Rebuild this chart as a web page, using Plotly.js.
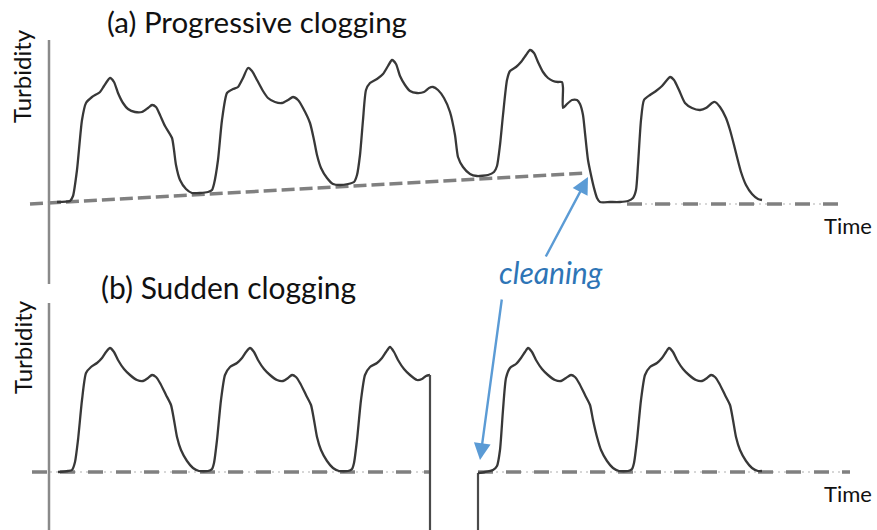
<!DOCTYPE html>
<html><head><meta charset="utf-8">
<script src="https://cdn.plot.ly/plotly-3.0.1.min.js"></script>
<style>html,body{margin:0;padding:0;background:#fff}#chart{width:877px;height:530px}</style>
</head><body><div id="chart"></div>
<script>
// (a) Progressive clogging: time and turbidity
const timeA = [57,70,73,77,82,86,92,100,104,110,114,118,123,128,135,142,148,152,156,160,165,172,174,176,180,186,192,200,208,212,214,218,222,227,233,238,243,248,252,257,263,268,275,282,288,293,298,303,310,314,317,321,327,333,340,348,354,357,360,363,366,370,377,383,388,392,396,400,405,410,417,424,429,433,438,444,450,455,458,463,470,477,488,494,497,500,503,507,510,516,521,526,530,534,538,543,548,553,558,562,563,563,567,572,577,580,583,585,588,591,594,597,600,610,620,628,633,636,638,641,644,650,656,662,667,670,674,679,685,692,700,706,712,715,720,726,730,734,737,741,746,752,758,762];
const turbA = [2,3,8,34,84,101,107,112,118,126,122,111,101,95,92,92,96,99,97,89,78,66,54,39,24,15,11,11,12,14,20,44,84,111,115,117,126,136,133,124,113,106,102,101,104,107,104,96,81,64,49,36,26,20,19,20,22,29,49,84,114,121,125,130,138,144,140,128,119,113,111,112,116,117,114,106,92,69,47,37,30,28,29,32,38,59,89,124,133,137,142,149,154,151,142,132,126,123,122,122,116,96,100,104,104,100,89,71,44,29,16,6,2,2,2,3,6,14,39,84,104,109,113,118,124,127,124,114,101,96,94,96,101,102,97,86,74,59,47,32,19,10,5,4];
// (a) clogging trend line and post-cleaning baseline
const trendTimeA = [30,587];
const trendTurbA = [0,31];
const baseTimeA = [627,838];
const baseTurbA = [0,0];

// (b) Sudden clogging, before cleaning
const timeB1 = [58,68,72,75,78,82,86,91,97,102,106,110,114,118,124,130,137,143,148,152,156,160,166,171,174,177,181,187,193,199,208,212,214,217,221,225,230,237,242,246,250,254,258,264,270,277,283,288,292,296,300,306,311,314,317,321,327,333,339,348,352,354,357,361,365,370,377,382,386,390,394,398,404,410,417,422,426,430];
const turbB1 = [0,1,2,10,32,72,99,105,109,114,120,124,120,112,103,97,92,91,94,97,95,89,77,67,52,35,22,11,4,1,1,3,9,32,72,97,105,109,114,120,124,120,112,103,97,92,91,94,97,95,89,77,67,52,35,22,11,4,1,1,3,9,32,72,97,105,109,114,120,125,120,112,103,97,92,93,96,97];
// (b) sudden drop (clogging) and restart after cleaning
const dropTimeB = [430,430];
const dropTurbB = [97,-58];
const restartTimeB = [478,478];
const restartTurbB = [-58,-1];
// (b) after cleaning
const timeB2 = [478,485,493,497,500,503,506,510,516,521,525,528,532,536,542,548,555,561,566,571,575,579,585,590,593,597,601,607,613,619,628,632,634,637,641,645,650,657,662,666,669,673,677,683,689,696,702,707,711,715,719,725,730,733,736,740,746,752,758,762];
const turbB2 = [-1,0,2,6,22,62,94,104,108,114,120,124,120,112,103,97,92,91,94,97,95,89,77,67,52,35,22,11,4,1,1,3,9,32,72,97,105,109,114,120,124,120,112,103,97,92,91,94,97,95,89,77,67,52,35,22,11,4,1,1];
const baseTimeB1 = [32,430];
const baseTimeB2 = [478,850];
const baseTurbB = [0,0];

const curve = {color:'#383838', width:2.3, shape:'spline', smoothing:0.6};
const straight = {color:'#4a4a4a', width:2.2};
const dashCol = '#808080';
const traces = [
  {x:trendTimeA, y:trendTurbA, xaxis:'x', yaxis:'y', mode:'lines', line:{color:dashCol, width:3.5, dash:'13px,5px'}},
  {x:baseTimeA, y:baseTurbA, xaxis:'x', yaxis:'y', mode:'lines', line:{color:'#b0b0b0', width:1.2, dash:'2px,4px'}},
  {x:baseTimeA, y:baseTurbA, xaxis:'x', yaxis:'y', mode:'lines', line:{color:dashCol, width:3.5, dash:'15px,13px'}},
  {x:timeA, y:turbA, xaxis:'x', yaxis:'y', mode:'lines', line:curve},
  {x:baseTimeB1, y:baseTurbB, xaxis:'x', yaxis:'y2', mode:'lines', line:{color:'#b0b0b0', width:1.2, dash:'2px,4px'}},
  {x:baseTimeB2, y:baseTurbB, xaxis:'x', yaxis:'y2', mode:'lines', line:{color:'#b0b0b0', width:1.2, dash:'2px,4px'}},
  {x:baseTimeB1, y:baseTurbB, xaxis:'x', yaxis:'y2', mode:'lines', line:{color:dashCol, width:3.5, dash:'15px,13px'}},
  {x:baseTimeB2, y:baseTurbB, xaxis:'x', yaxis:'y2', mode:'lines', line:{color:dashCol, width:3.5, dash:'15px,13px'}},
  {x:timeB1, y:turbB1, xaxis:'x', yaxis:'y2', mode:'lines', line:curve},
  {x:dropTimeB, y:dropTurbB, xaxis:'x', yaxis:'y2', mode:'lines', line:straight},
  {x:restartTimeB, y:restartTurbB, xaxis:'x', yaxis:'y2', mode:'lines', line:straight},
  {x:timeB2, y:turbB2, xaxis:'x', yaxis:'y2', mode:'lines', line:curve}
];

const font = 'Lato, "Open Sans", sans-serif';
const P = (px) => px/877, Q = (py) => 1 - py/530;
const txt = (s, px, py, size, extra) => Object.assign({text:s, x:P(px), y:Q(py), xref:'paper', yref:'paper', showarrow:false, xanchor:'center', yanchor:'middle', font:{family:font, size:size, color:'#111'}}, extra||{});

const layout = {
  width:877, height:530, margin:{l:0,r:0,t:0,b:0},
  paper_bgcolor:'#fff', plot_bgcolor:'#fff', showlegend:false,
  xaxis:{range:[0,877], visible:false, fixedrange:true},
  yaxis:{domain:[0.5,1], range:[-61,204], visible:false},
  yaxis2:{domain:[0,0.5], range:[-58,207], visible:false},
  shapes:[
    {type:'line', xref:'x', yref:'paper', x0:49, x1:49, y0:Q(284), y1:Q(40), line:{color:'#8a8a8a', width:2.5}},
    {type:'line', xref:'x', yref:'paper', x0:49, x1:49, y0:Q(530), y1:Q(303), line:{color:'#8a8a8a', width:2.5}}
  ],
  annotations:[
    txt('(a) Progressive clogging', 257, 22, 29.5),
    txt('(b) Sudden clogging', 228, 287, 30),
    txt('Turbidity', 22, 76, 24, {textangle:-90}),
    txt('Turbidity', 22, 347, 24, {textangle:-90}),
    txt('Time', 848, 225, 22),
    txt('Time', 848, 493, 22),
    txt('<i>cleaning</i>', 551, 272, 30, {font:{family:font, size:30, color:'#2E75B6'}}),
    {x:588, y:27, xref:'x', yref:'y', ax:-43, ay:81, text:'', showarrow:true, arrowhead:2, arrowsize:1.4, arrowwidth:2.4, arrowcolor:'#5B9BD5'},
    {x:480, y:12, xref:'x', yref:'y2', ax:22, ay:-162, text:'', showarrow:true, arrowhead:2, arrowsize:1.4, arrowwidth:2.4, arrowcolor:'#5B9BD5'}
  ]
};
Plotly.newPlot('chart', traces, layout, {displayModeBar:false, staticPlot:true});
</script></body></html>
